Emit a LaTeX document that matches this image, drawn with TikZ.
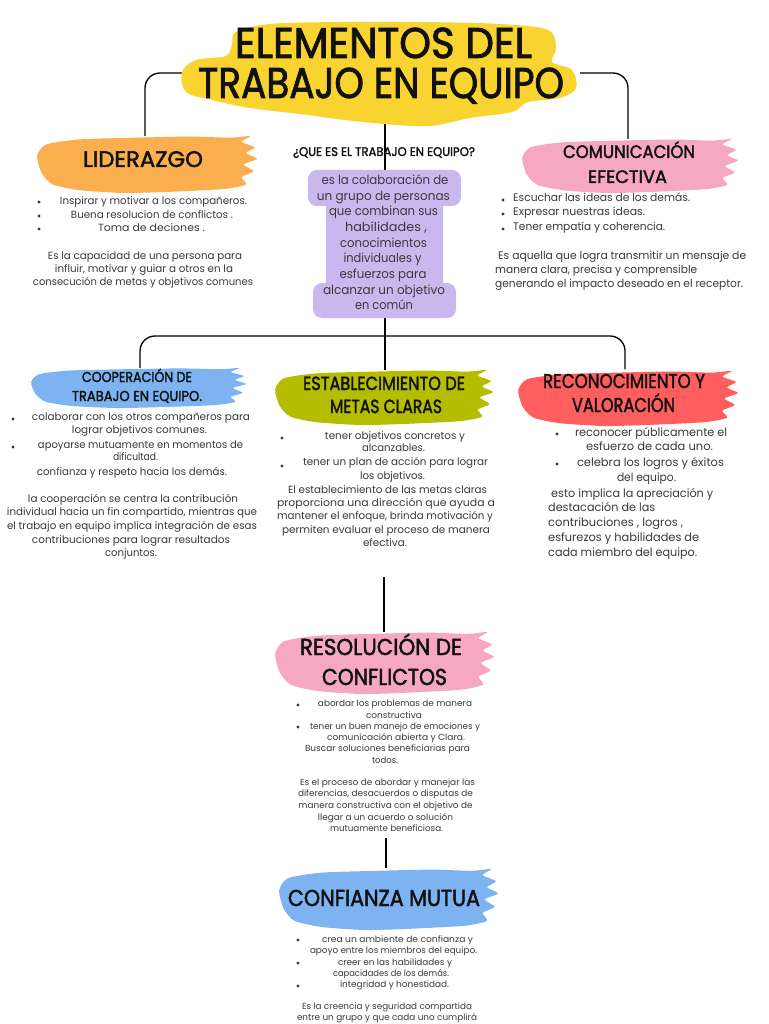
\documentclass[tikz,border=0pt]{standalone}
\usepackage{fontspec}
\usepackage{graphicx}
\setmainfont{Poppins}
\newfontfamily\headfont{Poppins}[FakeBold=2]
\usetikzlibrary{calc}
\definecolor{ylw}{HTML}{F9D330}
\definecolor{org}{HTML}{FBAE4D}
\definecolor{pnk}{HTML}{F6A8C3}
\definecolor{lav}{HTML}{C8B8EE}
\definecolor{blu}{HTML}{7EB3F1}
\definecolor{olv}{HTML}{B5BD00}
\definecolor{crl}{HTML}{FF5E5E}
\definecolor{txt}{HTML}{3A3A3A}
\definecolor{ink}{HTML}{111111}
\pgfdeclarelayer{bg}
\pgfdeclarelayer{paint}
\pgfsetlayers{bg,paint,main}
% heading line: [opts]{name}{x}{baseline y}{width}{size}{text}
\newcommand\hl[7][]{\node[head,#1] (#2) at (#3,#4) {\resizebox{#5pt}{\height}{\fontsize{#6}{#6}\selectfont #7}};}
% body line fitted to width: [opts]{name}{x}{y}{width}{text}
\newcommand\tw[6][]{\node[body,#1] (#2) at (#3,#4) {\resizebox{#5pt}{\height}{#6}};}
\newcommand\bdot[2]{\fill[txt] (#1,#2) circle[radius=1.7pt];}
% brush stroke: {colour}{left}{top}{width}{height}
\newcommand\brush[5]{%
  \begin{scope}[shift={(#2,#3)},x=#4pt,y=-#5pt]
    \fill[#1] plot[smooth cycle,tension=0.4] coordinates {(0.01,0.35) (0.05,0.15) (0.20,0.06) (0.45,0.03) (0.70,0.01) (0.88,0.03) (0.97,0.0) (0.93,0.10) (0.99,0.20) (0.95,0.30) (1.0,0.40) (0.94,0.50) (0.985,0.62) (0.93,0.72) (0.95,0.85) (0.85,0.93) (0.60,0.98) (0.40,1.0) (0.20,0.95) (0.08,0.85) (0.03,0.65)};
  \end{scope}}
\begin{document}
\begin{tikzpicture}[x=1pt,y=-1pt,
  conn/.style={draw=black,line width=1.3pt},
  area/.style={inner sep=0pt,draw=none,fill=none},
  head/.style={anchor=base,inner sep=0pt,text=ink,font=\headfont},
  body/.style={anchor=center,inner sep=0pt,text=txt},
  f8/.style={font=\fontsize{8.8}{10}\selectfont,text height=6.6pt,text depth=1.9pt},
  f95/.style={font=\fontsize{10.4}{12}\selectfont,text height=7.8pt,text depth=2.3pt},
  f10/.style={font=\fontsize{11}{12}\selectfont,text height=8.2pt,text depth=2.4pt},
  f105/.style={font=\fontsize{11.5}{13}\selectfont,text height=8.6pt,text depth=2.5pt},
  f115/.style={font=\fontsize{12.5}{14}\selectfont,text height=9.4pt,text depth=2.7pt}]
\useasboundingbox (0,0) rectangle (768,1024);

% ---------- areas (brush regions) ----------
\node[area,minimum width=390pt,minimum height=100pt] (title) at (385,73) {};
\node[area,minimum width=222pt,minimum height=56pt] (lid) at (145,164) {};
\node[area,minimum width=218pt,minimum height=54pt] (com) at (628,166) {};
\node[area,minimum width=218pt,minimum height=40pt] (coop) at (140,388) {};
\node[area,minimum width=220pt,minimum height=55pt] (est) at (385,397.5) {};
\node[area,minimum width=222pt,minimum height=55pt] (rec) at (625,397) {};
\node[area,minimum width=222pt,minimum height=62pt] (res) at (384,663) {};
\node[area,minimum width=222pt,minimum height=62pt] (conf) at (386,899) {};
\coordinate (hub) at (385,336);
\coordinate (estend) at (384,577);
\coordinate (resend) at (386,838);

% ---------- background and connectors ----------
\begin{pgfonlayer}{bg}
\fill[white] (0,0) rectangle (768,1024);
\draw[conn,rounded corners=15pt] (title.west) -| (lid.north);
\draw[conn,rounded corners=15pt] (title.east) -| (com.north);
\draw[conn] (title.south) -- (hub);
\draw[conn,rounded corners=15pt] (hub) -| (coop.north);
\draw[conn,rounded corners=15pt] (hub) -| (rec.north);
\draw[conn] (hub) -- (est.north);
\draw[conn] (estend) -- (res.north);
\draw[conn] (resend) -- (conf.north);
\end{pgfonlayer}

% ---------- paint ----------
\begin{pgfonlayer}{paint}
\fill[ylw] plot[smooth cycle,tension=0.55] coordinates {(236,32) (270,24) (340,22) (420,22) (500,24) (548,30) (556,48) (552,62) (572,70) (576,88) (560,98) (528,102) (512,112) (470,118) (430,126) (385,124) (345,120) (300,114) (250,108) (212,100) (186,92) (182,72) (196,60) (226,56) (232,44)};
\brush{org}{35}{136}{222}{57}
\brush{pnk}{520}{139}{218}{54}
\brush{blu}{29}{368}{217}{40}
\brush{olv}{273}{370}{220}{55}
\brush{crl}{516}{371}{222}{55}
\brush{pnk}{273}{632}{221}{62}
\brush{blu}{277}{869}{221}{61}
\fill[lav,rounded corners=9pt] (308,170) rectangle (461,206);
\fill[lav,rounded corners=9pt] (326,195) rectangle (443,292);
\fill[lav,rounded corners=9pt] (313,283) rectangle (456,318);
\end{pgfonlayer}

% ---------- title ----------
\hl{tt1}{383.5}{58}{297}{43}{ELEMENTOS DEL}
\hl{tt2}{381}{98}{366}{43}{TRABAJO EN EQUIPO}

% ---------- liderazgo ----------
\hl{lidh}{143}{167}{120}{22.5}{LIDERAZGO}
\bdot{39}{202}\bdot{39}{216}\bdot{39}{229}
\tw[f95]{lb1}{153.5}{202}{187}{Inspirar y motivar a los compañeros.}
\tw[f95]{lb2}{152}{216}{162}{Buena resolucion de conflictos .}
\tw[f95]{lb3}{151.5}{229}{107}{Toma de deciones .}
\tw[f95]{lp1}{145}{257}{194}{Es la capacidad de una persona para}
\tw[f95]{lp2}{144}{270}{178}{influir, motivar y guiar a otros en la}
\tw[f95]{lp3}{143}{283}{220}{consecución de metas y objetivos comunes}

% ---------- que es ----------
\hl{q}{384}{156}{182}{12.5}{¿QUE ES EL TRABAJO EN EQUIPO?}
\tw[f115]{p1}{385}{181.5}{127}{es la colaboración de}
\tw[f115]{p2}{383.5}{197}{133}{un grupo de personas}
\tw[f115]{p3}{383.5}{212.5}{109}{que combinan sus}
\tw[f115]{p4}{386}{228}{82}{habilidades ,}
\tw[f115]{p5}{383.5}{244}{87}{conocimientos}
\tw[f115]{p6}{382.5}{259.5}{78}{individuales y}
\tw[f115]{p7}{383}{275}{87}{esfuerzos para}
\tw[f115]{p8}{384}{291}{122}{alcanzar un objetivo}
\tw[f115]{p9}{384}{306.5}{58}{en común}

% ---------- comunicacion ----------
\hl{comh1}{629}{158}{132}{18}{COMUNICACIÓN}
\hl{comh2}{627.5}{183}{79}{18}{EFECTIVA}
\bdot{503}{200}\bdot{503}{214}\bdot{503}{229}
\tw[f10,anchor=west]{cb1}{513}{199}{177}{Escuchar las ideas de los demás.}
\tw[f10,anchor=west]{cb2}{513}{213}{132}{Expresar nuestras ideas.}
\tw[f10,anchor=west]{cb3}{513}{228}{152}{Tener empatía y coherencia.}
\tw[f10,anchor=west]{cp1}{498}{257}{248}{Es aquella que logra transmitir un mensaje de}
\tw[f10,anchor=west]{cp2}{495}{271}{202}{manera clara, precisa y comprensible}
\tw[f10,anchor=west]{cp3}{495}{285}{248}{generando el impacto deseado en el receptor.}

% ---------- cooperacion ----------
\hl{cooph1}{137}{382}{110}{14.3}{COOPERACIÓN DE}
\hl{cooph2}{137}{401}{130}{14.3}{TRABAJO EN EQUIPO.}
\bdot{13}{419}\bdot{13}{447}
\tw[f95]{cob1}{141}{418}{218}{colaborar con los otros compañeros para}
\tw[f95]{cob2}{139.5}{431}{135}{lograr objetivos comunes.}
\tw[f95]{cob3}{140.5}{446}{205}{apoyarse mutuamente en momentos de}
\tw[f95]{cob4}{135.5}{458}{45}{dificultad.}
\tw[f95]{cob5}{132}{473}{190}{confianza y respeto hacia los demás.}
\tw[f95]{cop1}{133}{500}{210}{la cooperación se centra la contribución}
\tw[f95]{cop2}{132}{513}{250}{individual hacia un fin compartido, mientras que}
\tw[f95]{cop3}{132}{527}{250}{el trabajo en equipo implica integración de esas}
\tw[f95]{cop4}{131}{541}{198}{contribuciones para lograr resultados}
\tw[f95]{cop5}{131}{554}{52}{conjuntos.}

% ---------- establecimiento ----------
\hl{esth1}{384}{390}{162}{19}{ESTABLECIMIENTO DE}
\hl{esth2}{386}{413}{112}{19}{METAS CLARAS}
\bdot{282}{438}\bdot{282}{466}
\tw[f95]{e1}{395}{437}{140}{tener objetivos concretos y}
\tw[f95]{e2}{393.5}{449}{63}{alcanzables.}
\tw[f95]{e3}{395.5}{463}{185}{tener un plan de acción para lograr}
\tw[f95]{e4}{392.5}{477}{65}{los objetivos.}
\tw[f95]{e5}{387.5}{491}{199}{El establecimiento de las metas claras}
\tw[f95]{e6}{386}{504}{218}{proporciona una dirección que ayuda a}
\tw[f95]{e7}{385}{517}{216}{mantener el enfoque, brinda motivación y}
\tw[f95]{e8}{386}{531}{208}{permiten evaluar el proceso de manera}
\tw[f95]{e9}{385}{544}{44}{efectiva.}

% ---------- reconocimiento ----------
\hl{rech1}{624}{388}{162}{20}{RECONOCIMIENTO Y}
\hl{rech2}{623.5}{412}{103}{20}{VALORACIÓN}
\bdot{557}{434}\bdot{557}{464}
\tw[f105]{r1}{651}{433}{152}{reconocer públicamente el}
\tw[f105]{r2}{649.5}{447}{127}{esfuerzo de cada uno.}
\tw[f105]{r3}{650.5}{463}{147}{celebra los logros y éxitos}
\tw[f105]{r4}{646.5}{478}{59}{del equipo.}
\tw[f105,anchor=west]{rp1}{551}{494}{162}{esto implica la apreciación y}
\tw[f105,anchor=west]{rp2}{548}{508}{107}{destacación de las}
\tw[f105,anchor=west]{rp3}{548}{523}{135}{contribuciones , logros ,}
\tw[f105,anchor=west]{rp4}{548}{538}{151}{esfurezos y habilidades de}
\tw[f105,anchor=west]{rp5}{548}{553}{149}{cada miembro del equipo.}

% ---------- resolucion ----------
\hl{resh1}{381}{655}{162}{23}{RESOLUCIÓN DE}
\hl{resh2}{384.5}{685}{125}{23}{CONFLICTOS}
\bdot{298}{705}\bdot{298}{727}
\tw[f8]{rs1}{395}{704}{154}{abordar los problemas de manera}
\tw[f8]{rs2}{394}{716}{56}{constructiva}
\tw[f8]{rs3}{395}{727}{170}{tener un buen manejo de emociones y}
\tw[f8]{rs4}{396}{738}{138}{comunicación abierta y Clara.}
\tw[f8]{rs5}{387.5}{749}{165}{Buscar soluciones beneficiarias para}
\tw[f8]{rs6}{385}{761}{26}{todos.}
\tw[f8]{rq1}{387.5}{783}{175}{Es el proceso de abordar y manejar las}
\tw[f8]{rq2}{385.5}{794}{175}{diferencias, desacuerdos o disputas de}
\tw[f8]{rq3}{385.5}{806}{174}{manera constructiva con el objetivo de}
\tw[f8]{rq4}{385.5}{818}{135}{llegar a un acuerdo o solución}
\tw[f8]{rq5}{386.5}{829}{113}{mutuamente beneficiosa.}

% ---------- confianza ----------
\hl{confh}{384}{906}{192}{23}{CONFIANZA MUTUA}
\bdot{298}{940}\bdot{298}{963}\bdot{298}{986}
\tw[f8]{cf1}{397.5}{940}{151}{crea un ambiente de confianza y}
\tw[f8]{cf2}{393.5}{951}{167}{apoyo entre los miembros del equipo.}
\tw[f8]{cf3}{395}{963}{114}{creer en las habilidades y}
\tw[f8]{cf4}{391}{974}{116}{capacidades de los demás.}
\tw[f8]{cf5}{394.5}{985}{109}{integridad y honestidad.}
\tw[f8]{cq1}{387}{1007}{170}{Es la creencia y seguridad compartida}
\tw[f8]{cq2}{387}{1018}{180}{entre un grupo y que cada uno cumplirá}
\end{tikzpicture}
\end{document}
